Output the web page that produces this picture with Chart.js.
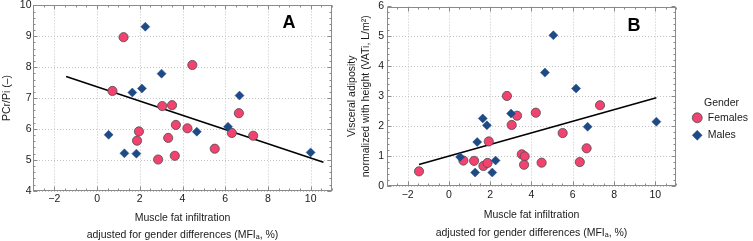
<!DOCTYPE html>
<html>
<head>
<meta charset="utf-8">
<script src="https://cdn.jsdelivr.net/npm/chart.js@4.4.1/dist/chart.umd.min.js"></script>
<style>
  html, body { margin: 0; padding: 0; background: #fff; overflow: hidden; }
  #wrap { position: relative; width: 753px; height: 241px; overflow: hidden; }
  #boxA { position: absolute; left: 0; top: 0; width: 345px; height: 241px; overflow: hidden; }
  #boxB { position: absolute; left: 340px; top: 0; width: 413px; height: 241px; overflow: hidden; }
</style>
</head>
<body>
<div id="wrap">
  <div id="boxA"><canvas id="chartA" width="345" height="260"></canvas></div>
  <div id="boxB"><canvas id="chartB" width="413" height="260"></canvas></div>
</div>
<script>
/* Two panels: PCr/Pi (A) and VATi (B) against MFIa, females vs males, with fit lines. */

const xTicks  = [-2, 0, 2, 4, 6, 8, 10];
const yTicksA = [4, 5, 6, 7, 8, 9, 10];
const yTicksB = [0, 1, 2, 3, 4, 5, 6];

// Panel A
const femalesMfiA = [1.24, 4.46, 0.72, 3.05, 3.51, 3.69, 4.23, 1.96, 1.87, 3.33, 3.64, 2.86, 5.51, 6.31, 6.64, 7.31];
const femalesPcrPi = [8.97, 8.07, 7.23, 6.74, 6.77, 6.13, 6.02, 5.92, 5.62, 5.71, 5.13, 5.01, 5.36, 5.87, 6.51, 5.78];
const malesMfiA = [2.26, 3.02, 1.65, 2.10, 0.54, 1.28, 1.84, 4.67, 6.13, 6.67, 10.0];
const malesPcrPi = [9.31, 7.79, 7.18, 7.31, 5.81, 5.21, 5.20, 5.91, 6.07, 7.08, 5.24];
const fitMfiA = [-1.45, 10.6];
const fitPcrPi = [7.70, 4.92];

// Panel B
const femalesMfiB = [-1.45, 0.70, 1.22, 1.67, 1.87, 1.93, 2.81, 3.04, 3.30, 3.53, 3.67, 3.64, 4.21, 4.49, 5.51, 6.34, 6.67, 7.32];
const femalesVati = [0.49, 0.85, 0.84, 0.67, 0.77, 1.49, 3.01, 2.04, 2.35, 1.06, 0.99, 0.71, 2.45, 0.78, 1.77, 0.80, 1.26, 2.70];
const malesMfiB = [0.54, 1.27, 1.37, 1.64, 1.84, 2.10, 2.26, 3.01, 4.65, 5.06, 6.16, 6.72, 10.05];
const malesVati = [0.97, 0.45, 1.47, 2.26, 2.03, 0.45, 0.85, 2.42, 3.79, 5.04, 3.26, 1.98, 2.15];
const fitMfiB = [-1.45, 10.05];
const fitVati = [0.72, 2.95];

const FONT = 'Liberation Sans, Arial, Helvetica, sans-serif';
const PINK = '#f2426f';
const BLUE = '#1e4a85';
Chart.defaults.font.family = FONT;
Chart.defaults.font.size = 10.5;
Chart.defaults.color = '#1a1a1a';

const pts = (xs, ys) => xs.map((x, i) => ({ x, y: ys[i] }));
const fmtTick = v => v < 0 ? '\u2212' + Math.abs(v) : String(v);

// dotted grid, grey frame with inward ticks on four sides, panel letter
const framePlugin = {
  id: 'frame',
  beforeDatasetsDraw(chart, args, opts) {
    const { ctx, chartArea: a, scales: { x, y } } = chart;
    ctx.save();
    ctx.strokeStyle = '#c4c4c4';
    ctx.lineWidth = 1;
    ctx.setLineDash([1, 2]);
    ctx.beginPath();
    x.ticks.forEach(t => {
      const px = Math.round(x.getPixelForValue(t.value)) + 0.5;
      ctx.moveTo(px, a.top); ctx.lineTo(px, a.bottom);
    });
    y.ticks.forEach(t => {
      const py = Math.round(y.getPixelForValue(t.value)) + 0.5;
      ctx.moveTo(a.left, py); ctx.lineTo(a.right, py);
    });
    ctx.stroke();
    ctx.setLineDash([]);

    const L = Math.round(a.left) + 0.5, R = Math.round(a.right) - 0.5;
    const T = Math.round(a.top) + 0.5, B = Math.round(a.bottom) - 0.5;
    ctx.strokeStyle = '#8a8a8a';
    ctx.strokeRect(L, T, R - L, B - T);
    ctx.beginPath();
    const isMajor = (v, step) => Math.abs(v / step - Math.round(v / step)) < 1e-6;
    for (let v = x.min; v <= x.max + 1e-9; v += opts.xMinor) {
      const len = isMajor(v, opts.xMajor) ? 4 : 2;
      const px = Math.round(x.getPixelForValue(v)) + 0.5;
      ctx.moveTo(px, B); ctx.lineTo(px, B - len);
      ctx.moveTo(px, T); ctx.lineTo(px, T + len);
    }
    for (let v = y.min; v <= y.max + 1e-9; v += opts.yMinor) {
      const len = isMajor(v, opts.yMajor) ? 4 : 2;
      const py = Math.round(y.getPixelForValue(v)) + 0.5;
      ctx.moveTo(L, py); ctx.lineTo(L + len, py);
      ctx.moveTo(R, py); ctx.lineTo(R - len, py);
    }
    ctx.stroke();

    ctx.fillStyle = '#000';
    ctx.font = 'bold 18px ' + FONT;
    ctx.textAlign = 'center';
    ctx.textBaseline = 'middle';
    ctx.fillText(opts.letter, a.right + opts.letterDx, a.top + opts.letterDy);
    ctx.restore();
  }
};

const legendShift = {
  id: 'legendShift',
  afterLayout(chart, args, opts) {
    const lg = chart.legend;
    if (!lg || !opts) return;
    lg.left += opts.dx || 0; lg.right += opts.dx || 0;
    lg.top += opts.dy || 0; lg.bottom += opts.dy || 0;
  }
};

function makePanel(id, cfg) {
  return new Chart(document.getElementById(id), {
    type: 'scatter',
    data: { datasets: [
      { label: 'Females', data: pts(cfg.fx, cfg.fy), pointStyle: 'circle', pointRadius: 4.6,
        backgroundColor: PINK, borderColor: '#4d4d4d', borderWidth: 0.8, order: 2 },
      { label: 'Males', data: pts(cfg.mx, cfg.my), pointStyle: 'rectRot', pointRadius: 4.5,
        backgroundColor: BLUE, borderColor: BLUE, borderWidth: 0.5, order: 1 },
      { label: 'fit', data: pts(cfg.lx, cfg.ly), showLine: true, pointRadius: 0,
        borderColor: '#000', borderWidth: 1.6, fill: false, order: 3 }
    ] },
    options: {
      responsive: false, animation: false,
      layout: { padding: cfg.padding },
      scales: {
        x: {
          type: 'linear', min: -3, max: 11,
          afterBuildTicks: s => { s.ticks = xTicks.map(v => ({ value: v })); },
          afterFit: s => { s.height = cfg.xHeight; s.paddingLeft = 0; s.paddingRight = 0; },
          grid: { display: false, drawTicks: false }, border: { display: false },
          ticks: { padding: cfg.xTickPad, callback: fmtTick, maxRotation: 0, autoSkip: false },
          title: { display: true, text: ['Muscle fat infiltration', 'adjusted for gender differences (MFI\u2090, %)'],
                   font: { size: 10.5, lineHeight: 17.5 / 10.5 }, padding: { top: 0, bottom: cfg.xTitlePad } }
        },
        y: {
          type: 'linear', min: cfg.yMin, max: cfg.yMax,
          afterBuildTicks: s => { s.ticks = cfg.yTicks.map(v => ({ value: v })); },
          afterFit: s => { s.width = cfg.yWidth; s.paddingTop = 0; s.paddingBottom = 0; },
          grid: { display: false, drawTicks: false }, border: { display: false },
          ticks: { padding: cfg.yTickPad, autoSkip: false },
          title: { display: true, text: cfg.yTitle, font: { size: 10.5, lineHeight: cfg.yTitleLH / 10.5 },
                   padding: { top: cfg.yTitlePad, bottom: 0 } }
        }
      },
      plugins: {
        tooltip: { enabled: false },
        legend: cfg.legend,
        frame: { letter: cfg.letter, letterDx: cfg.letterDx, letterDy: cfg.letterDy,
                 xMinor: 0.5, xMajor: 2, yMinor: 0.2, yMajor: 1 },
        legendShift: cfg.legendShift
      }
    },
    plugins: [framePlugin, legendShift]
  });
}

makePanel('chartA', {
  fx: femalesMfiA, fy: femalesPcrPi, mx: malesMfiA, my: malesPcrPi, lx: fitMfiA, ly: fitPcrPi,
  yMin: 4, yMax: 10, yTicks: yTicksA, yTitle: 'PCr/Pi (\u2013)', yTitleLH: 13, yTitlePad: 0.5,
  padding: { top: 4, right: 13, left: 0, bottom: 0 },
  xHeight: 260 - 190.7, xTickPad: 2, xTitlePad: 16,
  yWidth: 33, yTickPad: 1.5,
  letter: 'A', letterDx: -43, letterDy: 17.5,
  legend: { display: false }, legendShift: { dx: 0, dy: 0 }
});

makePanel('chartB', {
  fx: femalesMfiB, fy: femalesVati, mx: malesMfiB, my: malesVati, lx: fitMfiB, ly: fitVati,
  yMin: 0, yMax: 6, yTicks: yTicksB,
  yTitle: ['Visceral adiposity', 'normalized with height (VATi, L/m\u00b2)'], yTitleLH: 14.5, yTitlePad: 4.75,
  padding: { top: 6.5, right: 4, left: 0, bottom: 0 },
  xHeight: 260 - 186, xTickPad: 3, xTitlePad: 18.5,
  yWidth: 47, yTickPad: 3,
  letter: 'B', letterDx: -42, letterDy: 20,
  legend: {
    display: true, position: 'right',
    title: { display: true, text: 'Gender', font: { size: 10.5 }, padding: { top: 0, bottom: -5 } },
    labels: { usePointStyle: true, boxWidth: 10.5, boxHeight: 7, padding: 7, font: { size: 10.5 },
              filter: item => item.datasetIndex < 2,
              sort: (a, b) => a.datasetIndex - b.datasetIndex }
  },
  legendShift: { dx: 9, dy: -10.5 }
});
</script>
</body>
</html>
